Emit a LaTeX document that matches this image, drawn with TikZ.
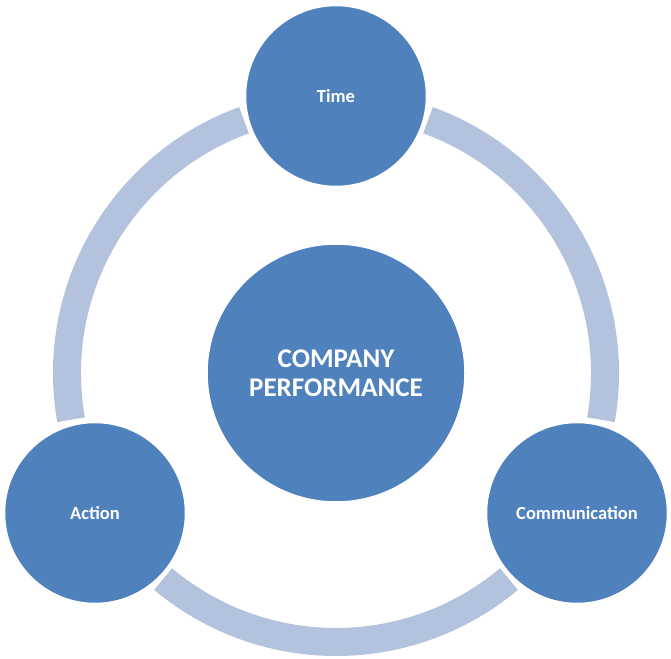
\documentclass[tikz,border=0pt]{standalone}
\usepackage{fontspec}
\setmainfont{Carlito}
\definecolor{bluefill}{HTML}{4F81BD}
\definecolor{ringcol}{HTML}{B3C2DD}
\begin{document}
\begin{tikzpicture}[x=1pt,y=1pt,
  ringseg/.style={draw=ringcol,line width=28pt},
  bigc/.style={circle,fill=bluefill,draw=white,line width=1.5pt,inner sep=0pt,text=white,font=\bfseries,align=center},
  smalltxt/.style={font=\bfseries\fontsize{18.5}{22}\selectfont}]
\useasboundingbox (0,0) rectangle (671,658);
\coordinate (c) at (336,285);
\draw[ringseg] ([shift={(110:269pt)}]c) arc[start angle=110,end angle=190,radius=269pt];
\draw[ringseg] ([shift={(230:269pt)}]c) arc[start angle=230,end angle=310,radius=269pt];
\draw[ringseg] ([shift={(-10:269pt)}]c) arc[start angle=-10,end angle=70,radius=269pt];
\node[bigc,minimum size=258pt,font=\bfseries\fontsize{27}{29}\selectfont] (center) at (c) {COMPANY\\PERFORMANCE};
\node[bigc,minimum size=181pt,smalltxt] (time) at (336,562) {Time};
\node[bigc,minimum size=181pt,smalltxt] (action) at (95,145) {Action};
\node[bigc,minimum size=181pt,smalltxt] (comm) at (577,145) {Communication};
\end{tikzpicture}
\end{document}
